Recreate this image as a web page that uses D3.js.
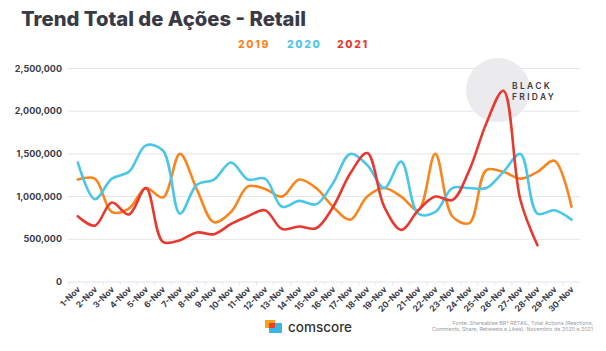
<!DOCTYPE html>
<html>
<head>
<meta charset="utf-8">
<script src="https://cdn.jsdelivr.net/npm/d3@7"></script>
<style>
  html, body { margin: 0; padding: 0; background: #fff; }
  svg { display: block; font-family: Inter, "Open Sans", sans-serif; }
  .grid line { stroke: #e4e4ec; stroke-width: 1; }
  .ylab { font-size: 9px; font-weight: 700; fill: #3c3c48; }
  .xlab { font-size: 8.5px; font-weight: 700; fill: #3c3c48; }
</style>
</head>
<body>
<div id="chart"></div>
<script>
// chart data
const days = d3.range(1, 31).map(d => d + "-Nov");
const yTicks = [0, 500000, 1000000, 1500000, 2000000, 2500000];
const years = ["2019", "2020", "2021"];
const colors = ["#f7861e", "#4cc6e8", "#e63a30"];

const v2019 = [1200000, 1210000, 820000, 860000, 1100000, 990000, 1500000, 1080000, 700000, 820000,
               1120000, 1090000, 1000000, 1200000, 1100000, 880000, 730000, 1000000, 1100000, 1000000,
               840000, 1500000, 770000, 690000, 1310000, 1290000, 1210000, 1290000, 1420000, 880000];
const v2020 = [1400000, 970000, 1210000, 1290000, 1600000, 1540000, 800000, 1140000, 1200000, 1400000,
               1200000, 1210000, 880000, 950000, 910000, 1160000, 1500000, 1370000, 1100000, 1410000,
               800000, 820000, 1100000, 1100000, 1100000, 1290000, 1500000, 800000, 840000, 730000];
const v2021 = [770000, 660000, 930000, 790000, 1100000, 470000, 490000, 580000, 560000, 680000,
               770000, 840000, 620000, 650000, 630000, 880000, 1270000, 1510000, 880000, 610000,
               840000, 1000000, 960000, 1310000, 1860000, 2240000, 960000, 430000];
const series = [v2019, v2020, v2021];

const W = 606, H = 351;
const svg = d3.select("#chart").append("svg").attr("width", W).attr("height", H);

const x = d3.scaleBand().domain(days).range([69.3, 580]).padding(0);
const y = d3.scaleLinear().domain([0, 2500000]).range([282, 68.5]);

// title
svg.append("text").attr("x", 21).attr("y", 26)
  .attr("font-size", 20).attr("font-weight", 800).attr("fill", "#3a3a46")
  .attr("textLength", 285).attr("lengthAdjust", "spacingAndGlyphs")
  .text("Trend Total de Ações - Retail");

// legend
const legX = [238, 287, 337];
years.forEach((yr, i) => {
  svg.append("text").attr("x", legX[i]).attr("y", 48)
    .attr("font-size", 10.5).attr("font-weight", 800).attr("letter-spacing", 1.6)
    .attr("fill", colors[i]).text(yr);
});

// grid
svg.append("g").attr("class", "grid")
  .selectAll("line").data(yTicks).join("line")
  .attr("x1", 68).attr("x2", 580)
  .attr("y1", d => y(d)).attr("y2", d => y(d));

// y labels
svg.append("g").selectAll("text").data(yTicks).join("text")
  .attr("class", "ylab")
  .attr("x", 62).attr("y", d => y(d)).attr("dy", "0.35em")
  .attr("text-anchor", "end")
  .text(d => d3.format(",")(d));

// x ticks at band edges
svg.append("g").selectAll("line").data(days).join("line")
  .attr("x1", d => x(d)).attr("x2", d => x(d))
  .attr("y1", 282).attr("y2", 285).attr("stroke", "#e4e4ec");

// x labels
svg.append("g").selectAll("text").data(days).join("text")
  .attr("class", "xlab")
  .attr("text-anchor", "end")
  .attr("transform", d => `translate(${x(d) + x.bandwidth() / 2 + 3},${290}) rotate(-45)`)
  .text(d => d);

// black friday marker
svg.append("circle").attr("cx", 498).attr("cy", 90).attr("r", 32).attr("fill", "#ebebed");
["BLACK", "FRIDAY"].forEach((t, i) => {
  svg.append("text").attr("x", 512).attr("y", 88.5 + i * 11)
    .attr("font-size", 8.5).attr("font-weight", 600).attr("letter-spacing", 2.3)
    .attr("fill", "#3a3a46").text(t);
});

// lines
const line = d3.line()
  .x((d, i) => x(days[i]) + x.bandwidth() / 2)
  .y(d => y(d))
  .curve(d3.curveCatmullRom.alpha(0.5));

series.forEach((s, i) => {
  svg.append("path").datum(s)
    .attr("fill", "none").attr("stroke", colors[i]).attr("stroke-width", 2.6)
    .attr("stroke-linejoin", "round").attr("stroke-linecap", "round")
    .attr("d", line);
});

// footer logo
const logo = svg.append("g").attr("transform", "translate(265,320)");
logo.append("rect").attr("x", 0).attr("y", 0).attr("width", 10).attr("height", 8).attr("fill", "#f7a21b");
logo.append("rect").attr("x", 4).attr("y", 3).attr("width", 13).attr("height", 10).attr("fill", "#39b6e6");
logo.append("rect").attr("x", 4).attr("y", 3).attr("width", 6).attr("height", 5).attr("fill", "#e8402e");
svg.append("text").attr("x", 288).attr("y", 332)
  .attr("font-size", 13.5).attr("font-weight", 500).attr("fill", "#333")
  .text("comscore");

// source note
const note = ["Fonte: Shareablee BR* RETAIL, Total Actions (Reactions,",
              "Comments, Share, Retweets e Likes). Novembro de 2020 e 2021"];
note.forEach((t, i) => {
  svg.append("text").attr("x", 593).attr("y", 325 + i * 6)
    .attr("text-anchor", "end").attr("font-size", 5.3).attr("fill", "#9a9aa0")
    .text(t);
});
</script>
</body>
</html>
